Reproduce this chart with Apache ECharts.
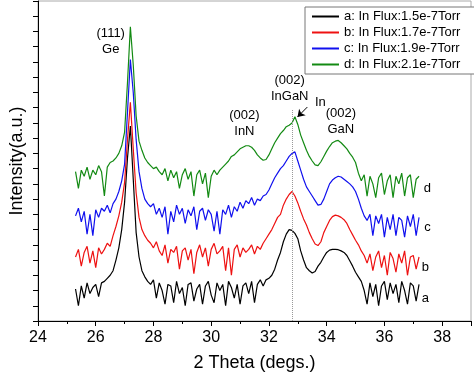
<!DOCTYPE html>
<html>
<head>
<meta charset="utf-8" />
<title>XRD</title>
<script src="https://cdn.jsdelivr.net/npm/echarts@6/dist/echarts.min.js"></script>
<style>
  html, body { margin: 0; padding: 0; background: #fff; }
  #chart { width: 474px; height: 377px; }
</style>
</head>
<body>
<div id="chart"></div>
<script>
// 2 theta grid: 25.3 .. 37.2, step 0.1
var theta = [];
for (var i = 0; i < 120; i++) theta.push(+(25.3 + 0.1 * i).toFixed(1));

var names = ['a: In Flux:1.5e-7Torr', 'b: In Flux:1.7e-7Torr', 'c: In Flux:1.9e-7Torr', 'd: In Flux:2.1e-7Torr'];
var colors = ['#000000', '#ee1111', '#1010ee', '#138a13'];

// offset intensities (a.u.)
var fluxA = [
  210, 100, 230, 150, 250, 180, 220, 240, 160, 250,
  260, 280, 300, 330, 400, 480, 600, 780, 1070, 1280,
  930, 580, 420, 330, 290, 260, 240, 270, 150, 250,
  200, 110, 240, 230, 120, 260, 180, 220, 100, 240,
  250, 130, 210, 240, 110, 230, 260, 170, 120, 250,
  200, 240, 100, 260, 220, 150, 240, 110, 230, 250,
  180, 260, 120, 240, 270, 230, 270, 280, 300, 340,
  400, 450, 520, 570, 600, 595, 575, 540, 460, 400,
  350, 330, 315, 325, 360, 385, 420, 450, 465, 470,
  470, 468, 460, 450, 430, 395, 360, 320, 290, 260,
  200, 110, 250, 160, 240, 100, 230, 260, 140, 250,
  180, 240, 120, 260, 200, 110, 250, 230, 130, 240
];
var fluxB = [
  420, 470, 360, 450, 490, 380, 460, 350, 480, 440,
  470, 510, 490, 560, 620, 690, 780, 910, 1190, 1436,
  1130, 840, 680, 600, 560, 530, 510, 480, 520, 460,
  430, 500, 380, 470, 450, 490, 340, 460, 480, 400,
  470, 310, 450, 500, 420, 480, 360, 470, 510, 440,
  460, 490, 330, 480, 300, 470, 500, 420, 480, 450,
  470, 500, 440, 490, 470, 510, 540, 570, 600, 640,
  680, 700, 760, 800, 830, 850, 820, 775, 720, 670,
  630, 580, 540, 505, 495, 520, 580, 620, 660, 685,
  695, 690, 680, 665, 640, 600, 565, 530, 500, 460,
  430, 380, 440, 330, 420, 460, 350, 430, 300, 450,
  410, 320, 440, 380, 460, 300, 420, 430, 340, 420
];
var fluxC = [
  690, 740, 650, 720, 570, 700, 560, 730, 680, 740,
  720, 760, 710, 770, 800, 850, 920, 1030, 1370, 1716,
  1500, 1190, 980, 870, 800, 770, 750, 770, 700, 740,
  680, 750, 570, 720, 650, 760, 700, 740, 640, 730,
  690, 750, 600, 720, 740, 660, 730, 700, 590, 720,
  570, 730, 700, 760, 680, 750, 720, 780, 740, 790,
  770, 810, 760, 800, 790, 820, 830, 860, 900, 940,
  970, 1000, 1020, 1050, 1080, 1100, 1110, 1050, 990, 930,
  880, 850, 820, 790, 760, 765, 800, 850, 900, 925,
  940, 950, 945, 930, 915, 900, 880, 850, 800, 740,
  690, 660, 700, 560, 690, 640, 700, 550, 680, 600,
  700, 560, 680, 660, 550, 690, 620, 700, 560, 680
];
var fluxD = [
  980, 870, 990, 950, 1010, 930, 990, 960, 1020, 980,
  820, 1010, 1040, 1050, 1070, 1100, 1150, 1240, 1565, 1930,
  1680, 1345, 1180, 1120, 1070, 1040, 1020, 1000, 1010, 980,
  960, 1000, 920, 990, 940, 980, 870, 960, 1000, 930,
  980, 820, 960, 990, 900, 970, 810, 950, 990, 960,
  990, 1010, 1030, 1050, 1080, 1090, 1110, 1130, 1140, 1150,
  1150, 1140, 1120, 1090, 1070, 1055, 1060, 1090, 1130, 1170,
  1200, 1230, 1250, 1275, 1285, 1300, 1340, 1290, 1220, 1170,
  1120, 1080, 1050, 1025, 1020, 1045, 1080, 1115, 1145, 1170,
  1180, 1185, 1170, 1150, 1130, 1100, 1075, 1040, 970, 920,
  960, 820, 950, 900, 810, 940, 970, 830, 920, 960,
  810, 950, 900, 970, 820, 940, 960, 810, 930, 950
];

// text notes: [text, 2theta, intensity]
var notes = [
  ['(111)\nGe', 26.52, 1836],
  ['(002)\nInN', 31.15, 1297],
  ['(002)\nInGaN', 32.72, 1524],
  ['In', 33.78, 1437],
  ['(002)\nGaN', 34.49, 1310],
  ['a', 37.42, 150],
  ['b', 37.42, 351],
  ['c', 37.49, 611],
  ['d', 37.49, 871]
];
var refLine = 32.8;

var myChart = echarts.init(document.getElementById('chart'));
var font = 'Liberation Sans, Arial, sans-serif';

function pairs(ys) {
  return theta.map(function (t, i) { return [t, ys[i]]; });
}

var series = [fluxA, fluxB, fluxC, fluxD].map(function (ys, k) {
  return {
    name: names[k],
    type: 'line',
    data: pairs(ys),
    showSymbol: false,
    symbol: 'none',
    lineStyle: { color: colors[k], width: 1.2 },
    itemStyle: { color: colors[k] },
    animation: false
  };
});

series.push({
  type: 'scatter',
  silent: true,
  symbolSize: 0,
  itemStyle: { color: '#000', opacity: 0 },
  data: notes.map(function (n) { return { name: n[0], value: [n[1], n[2]] }; }),
  label: {
    show: true,
    position: 'inside',
    formatter: '{b}',
    color: '#000',
    opacity: 1,
    textBorderWidth: 0,
    fontSize: 13,
    lineHeight: 16,
    fontFamily: font
  },
  markLine: {
    silent: true,
    animation: false,
    label: { show: false },
    data: [
      [{ coord: [refLine, 0], symbol: 'none' }, { coord: [refLine, 1390], symbol: 'none', lineStyle: { type: 'dotted', color: '#999', width: 1 } }],
      [{ coord: [33.33, 1404], symbol: 'none' }, { coord: [32.99, 1339], symbol: 'arrow', symbolSize: 7, lineStyle: { type: 'solid', color: '#000', width: 1 } }]
    ]
  },
  animation: false
});

option = {
  backgroundColor: '#fff',
  textStyle: { fontFamily: font },
  grid: { left: 34, right: 0, top: 1, bottom: 53, show: true, borderColor: '#aaa', borderWidth: 1 },
  legend: {
    data: names,
    orient: 'vertical',
    left: 305,
    top: 7,
    padding: [3, 40, 3, 7],
    itemGap: 3,
    itemWidth: 27,
    itemHeight: 2,
    icon: 'rect',
    backgroundColor: '#fff',
    borderColor: '#777',
    borderWidth: 1,
    textStyle: { fontSize: 13, color: '#000', fontFamily: font }
  },
  xAxis: {
    type: 'value',
    min: 24,
    max: 39,
    interval: 2,
    name: '2 Theta (degs.)',
    nameLocation: 'middle',
    nameGap: 33,
    nameTextStyle: { fontSize: 18, color: '#000', fontFamily: font },
    axisLine: { onZero: false, lineStyle: { color: '#000', width: 1 } },
    axisTick: { length: 5, lineStyle: { color: '#000' } },
    minorTick: { show: true, splitNumber: 2, length: 3, lineStyle: { color: '#000' } },
    axisLabel: {
      fontSize: 16, color: '#000', margin: 9, fontFamily: font,
      formatter: function (v) { return v > 38 ? '' : v; }
    },
    splitLine: { show: false }
  },
  yAxis: {
    type: 'value',
    min: 0,
    max: 2100,
    interval: 100,
    name: 'Intensity(a.u.)',
    nameLocation: 'middle',
    nameGap: 12,
    nameTextStyle: { fontSize: 18, color: '#000', fontFamily: font },
    axisLine: { lineStyle: { color: '#000', width: 1 } },
    axisTick: { length: 5, lineStyle: { color: '#000' } },
    axisLabel: { show: false },
    splitLine: { show: false }
  },
  series: series
};
myChart.setOption(option);
</script>
</body>
</html>
